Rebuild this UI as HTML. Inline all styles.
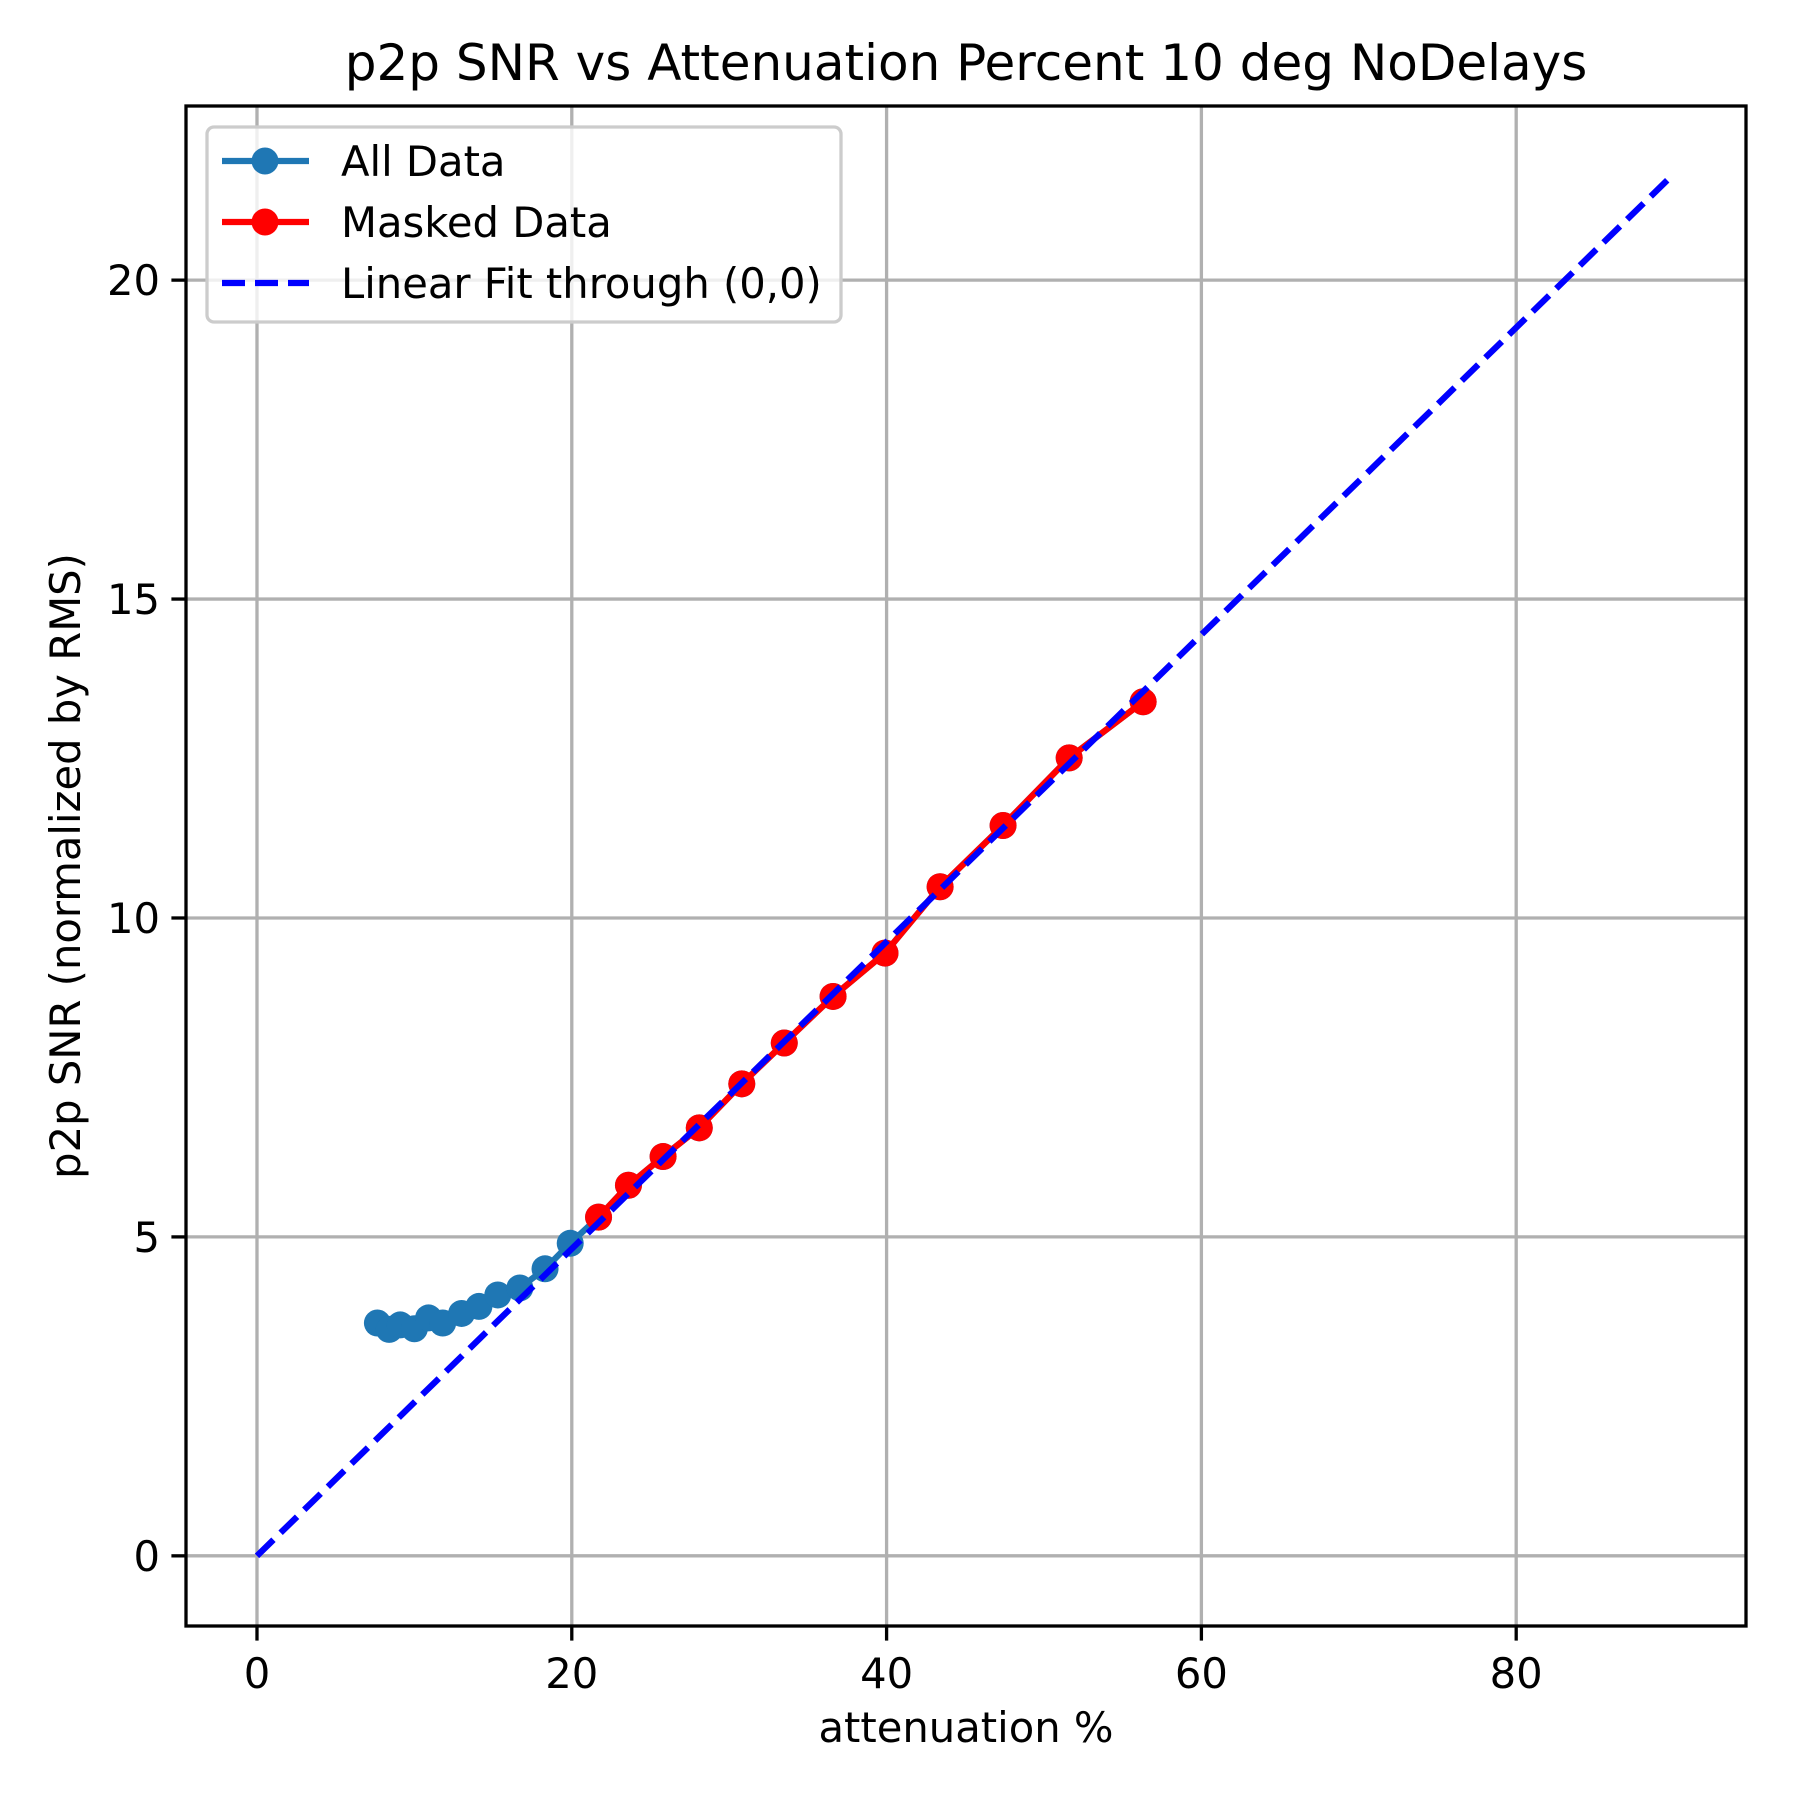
<!DOCTYPE html>
<html><head><meta charset="utf-8"><style>
html,body{margin:0;padding:0;background:#fff}
svg{display:block;font-family:"DejaVu Sans","Liberation Sans",sans-serif}
</style></head><body>
<svg id="chart" width="1800" height="1800" viewBox="0 0 1800 1800">
<rect width="1800" height="1800" fill="#fff"/>
<g id="grid"></g>
<g id="series"></g>
<rect x="186" y="106" width="1560" height="1520" fill="none" stroke="#000" stroke-width="3.3"/>
<g id="ticks"></g>
<text x="966" y="80" font-size="50" text-anchor="middle">p2p SNR vs Attenuation Percent 10 deg NoDelays</text>
<text x="966" y="1742" font-size="41.7" text-anchor="middle">attenuation %</text>
<text x="0" y="0" font-size="41.7" text-anchor="middle" transform="translate(80,866) rotate(-90)">p2p SNR (normalized by RMS)</text>
<g>
<rect x="207" y="127" width="634" height="195" rx="7" fill="#fff" fill-opacity="0.8" stroke="#ccc" stroke-width="3.3"/>
<g>
<line x1="222" y1="161" x2="309" y2="161" stroke="#1f77b4" stroke-width="6.25"/><circle cx="265" cy="161" r="13.5" fill="#1f77b4"/>
<text x="341" y="176" font-size="41.7">All Data</text></g>
<g>
<line x1="222" y1="222" x2="309" y2="222" stroke="#ff0000" stroke-width="6.25"/><circle cx="265" cy="222" r="13.5" fill="#ff0000"/>
<text x="341" y="237" font-size="41.7">Masked Data</text></g>
<g>
<line x1="222" y1="283" x2="309" y2="283" stroke="#0000ff" stroke-width="6.25" stroke-dasharray="23 10"/>
<text x="341" y="298" font-size="41.7">Linear Fit through (0,0)</text></g>
</g>
</svg>
<script>
const xTicks=[0,20,40,60,80];
const yTicks=[0,5,10,15,20];
const allX=[7.65,8.4,9.1,10.0,10.9,11.8,13.0,14.1,15.3,16.7,18.3,19.9];
const allY=[3.65,3.55,3.62,3.56,3.73,3.65,3.80,3.91,4.09,4.20,4.50,4.90];
const maskX=[21.7,23.6,25.8,28.1,30.8,33.5,36.6,39.9,43.4,47.4,51.6,56.3];
const maskY=[5.31,5.81,6.26,6.71,7.40,8.04,8.77,9.45,10.49,11.45,12.51,13.39];
const fitSlope=[0.2407];
const fitRange=[0,90];

const NS='http://www.w3.org/2000/svg';
const X0=186,X1=1746,Y0=106,Y1=1626;
const xMin=-4.51,xMax=94.6,yMin=-1.10,yMax=22.73;
function sx(v){return X0+(v-xMin)/(xMax-xMin)*(X1-X0);}
function sy(v){return Y1-(v-yMin)/(yMax-yMin)*(Y1-Y0);}
function mk(tag,attrs,parent){const e=document.createElementNS(NS,tag);for(const k in attrs)e.setAttribute(k,attrs[k]);parent.appendChild(e);return e;}
const grid=document.getElementById('grid'),ticks=document.getElementById('ticks'),series=document.getElementById('series');
xTicks.forEach(t=>{
 const g=mk('line',{x1:sx(t),x2:sx(t),y1:Y0,y2:Y1,stroke:'#b0b0b0','stroke-width':3.3},grid);
 
 
 const tk=mk('line',{x1:sx(t),x2:sx(t),y1:Y1,y2:Y1+14.6,stroke:'#000','stroke-width':3.3},ticks);
 
 
 const l=mk('text',{x:sx(t),y:1688,'font-size':41.7,'text-anchor':'middle'},ticks);
 l.textContent=t;
 
 
});
yTicks.forEach(t=>{
 const g=mk('line',{x1:X0,x2:X1,y1:sy(t),y2:sy(t),stroke:'#b0b0b0','stroke-width':3.3},grid);
 
 
 const tk=mk('line',{x1:X0-14.6,x2:X0,y1:sy(t),y2:sy(t),stroke:'#000','stroke-width':3.3},ticks);
 
 
 const l=mk('text',{x:X0-26,y:sy(t)+15,'font-size':41.7,'text-anchor':'end'},ticks);
 l.textContent=t;
 
 
});
const fullX=allX.concat(maskX),fullY=allY.concat(maskY);
const pAll=mk('polyline',{points:fullX.map((x,i)=>sx(x)+','+sy(fullY[i])).join(' '),fill:'none',stroke:'#1f77b4','stroke-width':6.25,'stroke-linejoin':'round'},series);


fullX.forEach((x,i)=>{const c=mk('circle',{cx:sx(x),cy:sy(fullY[i]),r:13.5,fill:'#1f77b4'},series);
 
 });
const pM=mk('polyline',{points:maskX.map((x,i)=>sx(x)+','+sy(maskY[i])).join(' '),fill:'none',stroke:'#ff0000','stroke-width':6.25,'stroke-linejoin':'round'},series);


maskX.forEach((x,i)=>{const c=mk('circle',{cx:sx(x),cy:sy(maskY[i]),r:13.5,fill:'#ff0000'},series);
 
 });
const f=mk('line',{x1:sx(fitRange[0]),y1:sy(fitRange[0]*fitSlope[0]),x2:sx(fitRange[1]),y2:sy(fitRange[1]*fitSlope[0]),stroke:'#0000ff','stroke-width':6.25,'stroke-dasharray':'23 10'},series);


</script>
</body></html>
